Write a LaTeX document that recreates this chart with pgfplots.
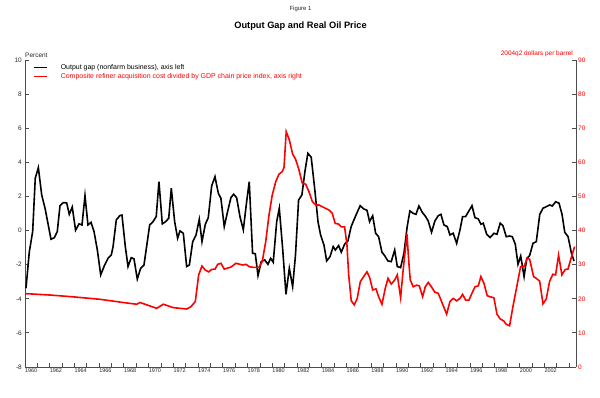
\documentclass[border=0pt]{standalone}
\usepackage{pgfplots}
\pgfplotsset{compat=1.18}
\usepackage{fontspec}
\setmainfont{Liberation Sans}
\begin{document}
\begin{tikzpicture}
\useasboundingbox (-25bp,-31bp) rectangle (575bp,367bp);
\pgfplotsset{
  common/.style={scale only axis, width=551bp, height=307bp, at={(0,0)}, anchor=south west,
    xmin=1960, xmax=2004.55, tick align=inside, major tick length=4bp,
    axis line style={black!70, line width=0.9bp},
    every tick/.style={black!70, line width=0.9bp},
    /pgf/number format/assume math mode=true},
}
\begin{axis}[common, ymin=-8, ymax=10,
  axis x line*=bottom, axis y line*=left,
  ytick={-8,-6,...,10},
  xtick={1960,...,2004}, xticklabels={},
  extra x ticks={1960.5,1962.5,1964.5,1966.5,1968.5,1970.5,1972.5,1974.5,1976.5,1978.5,1980.5,1982.5,1984.5,1986.5,1988.5,1990.5,1992.5,1994.5,1996.5,1998.5,2000.5,2002.5},
  extra x tick labels={1960,1962,1964,1966,1968,1970,1972,1974,1976,1978,1980,1982,1984,1986,1988,1990,1992,1994,1996,1998,2000,2002},
  extra x tick style={major tick length=0pt, xticklabel style={font=\fontsize{5.5}{6}\selectfont, text=black!85, inner sep=1bp}},
  yticklabel style={font=\fontsize{6.5}{7}\selectfont, text=black!85, inner sep=1bp, xshift=-2bp},
  legend style={draw=none, fill=none, at={(rel axis cs:0,1)}, anchor=north west,
    xshift=8bp, yshift=-2bp, inner sep=0pt, row sep=-1.5bp,
    font=\fontsize{7}{8}\selectfont, cells={anchor=west},
    /tikz/every even column/.append style={column sep=0bp},
    /tikz/every odd column/.append style={column sep=11bp}},
  legend image code/.code={\draw[#1, line width=1.6bp] (0bp,0bp) -- (13bp,0bp);},
  legend cell align=left,
  clip=false]
\addplot[black, line width=1.6bp] table {
1960.08 -3.38
1960.35 -1.24
1960.62 -0.06
1960.83 3.07
1961.08 3.69
1961.35 2.09
1961.62 1.31
1961.88 0.33
1962.10 -0.51
1962.37 -0.42
1962.61 -0.06
1962.83 1.46
1963.10 1.64
1963.37 1.62
1963.58 0.95
1963.82 1.38
1964.09 0.02
1964.37 0.39
1964.61 0.33
1964.85 2.05
1965.09 0.33
1965.34 0.48
1965.58 -0.06
1965.85 -1.14
1966.12 -2.60
1966.44 -2.02
1966.71 -1.63
1966.98 -1.43
1967.12 -0.94
1967.38 0.62
1967.66 0.87
1967.84 0.91
1968.11 -0.94
1968.33 -2.11
1968.59 -1.59
1968.81 -1.66
1969.08 -2.84
1969.35 -2.21
1969.62 -2.02
1969.89 -0.65
1970.08 0.33
1970.35 0.52
1970.61 0.82
1970.83 2.87
1971.10 0.39
1971.37 0.52
1971.62 0.72
1971.83 2.48
1972.10 0.52
1972.34 -0.45
1972.53 -0.02
1972.80 -0.16
1973.07 -2.11
1973.29 -2.02
1973.56 -0.65
1973.83 -0.26
1974.09 0.66
1974.31 -0.65
1974.58 0.37
1974.82 0.76
1975.09 2.61
1975.36 3.16
1975.63 2.19
1975.84 1.89
1976.11 0.23
1976.38 1.11
1976.65 1.93
1976.87 2.13
1977.11 1.93
1977.38 0.82
1977.65 0.04
1977.92 1.69
1978.13 2.87
1978.40 -1.33
1978.62 -1.36
1978.84 -2.64
1979.10 -1.82
1979.38 -1.72
1979.64 -1.98
1979.86 -1.63
1980.07 -1.86
1980.35 0.52
1980.56 1.31
1980.83 -1.04
1981.10 -3.74
1981.37 -2.21
1981.64 -3.29
1981.87 -1.43
1982.12 1.79
1982.39 2.09
1982.63 3.45
1982.87 4.53
1983.14 4.30
1983.42 2.48
1983.69 0.52
1983.90 -0.26
1984.17 -0.84
1984.39 -1.78
1984.66 -1.53
1984.92 -0.94
1985.09 -1.14
1985.36 -0.88
1985.57 -1.27
1985.84 -0.80
1986.11 -0.61
1986.37 0.23
1986.65 0.72
1986.86 1.07
1987.10 1.46
1987.38 1.27
1987.65 1.19
1987.86 0.52
1988.11 0.87
1988.35 -0.16
1988.59 -0.36
1988.86 -1.27
1989.08 -1.47
1989.34 -1.78
1989.61 -1.82
1989.89 -1.14
1990.10 -2.11
1990.37 -2.17
1990.64 -1.33
1990.90 0.23
1991.12 1.15
1991.39 1.01
1991.61 0.95
1991.85 1.44
1992.12 1.07
1992.39 0.82
1992.60 0.56
1992.87 -0.10
1993.14 0.56
1993.41 0.87
1993.63 0.95
1993.87 0.33
1994.14 0.23
1994.36 -0.26
1994.62 -0.16
1994.90 -0.75
1995.17 0.04
1995.38 0.82
1995.62 0.82
1995.89 1.15
1996.14 1.46
1996.38 0.76
1996.65 0.68
1996.86 0.37
1997.05 0.43
1997.33 -0.22
1997.60 -0.41
1997.92 -0.16
1998.16 -0.22
1998.42 0.43
1998.64 0.29
1998.91 -0.36
1999.18 -0.32
1999.40 -0.36
1999.64 -0.80
1999.86 -1.98
2000.08 -1.49
2000.35 -2.70
2000.57 -1.63
2000.80 -1.47
2001.07 -0.75
2001.34 -0.65
2001.62 0.95
2001.88 1.31
2002.15 1.40
2002.42 1.50
2002.63 1.44
2002.91 1.69
2003.18 1.60
2003.42 0.95
2003.64 -0.10
2003.91 -0.36
2004.18 -1.33
2004.39 -1.78
};
\addlegendentry{Output gap (nonfarm business), axis left}
\addlegendimage{red, line width=1.6bp}
\addlegendentry{\textcolor{red}{Composite refiner acquisition cost divided by GDP chain price index, axis right}}
\node[anchor=south west, inner sep=0pt, font=\fontsize{6.5}{7}\selectfont, text=black!85] at ([yshift=2bp]rel axis cs:0,1) {Percent};
\node[anchor=south east, inner sep=0pt, font=\fontsize{6.5}{7}\selectfont, text=red] at ([xshift=-3bp,yshift=3bp]rel axis cs:1,1) {2004q2 dollars per barrel};
\node[font=\fontsize{6}{7}\selectfont, text=black!85] at ([yshift=51bp]rel axis cs:0.5,1) {Figure 1};
\node[font=\bfseries\fontsize{9.3}{10}\selectfont] at ([yshift=34bp]rel axis cs:0.5,1) {Output Gap and Real Oil Price};
\end{axis}
\begin{axis}[common, ymin=0, ymax=90,
  axis y line*=right, axis x line=none,
  ytick={0,10,...,90},
  yticklabel style={font=\fontsize{6.5}{7}\selectfont, text=red, inner sep=1bp, xshift=1bp}]
\addplot[red, line width=1.6bp] table {
1960.08 21.5
1962.02 21.1
1963.78 20.6
1966.06 19.85
1967.95 18.9
1969.03 18.4
1969.30 18.9
1970.65 17.2
1971.18 18.4
1971.99 17.4
1973.07 17.0
1973.42 17.7
1973.77 19.2
1974.04 27.0
1974.31 29.6
1974.58 28.4
1974.85 27.9
1975.09 28.6
1975.36 28.7
1975.58 30.1
1975.84 30.4
1976.11 28.7
1976.65 29.3
1977.06 30.4
1977.60 29.9
1977.87 30.1
1978.13 29.4
1978.51 29.2
1978.92 29.2
1979.18 30.9
1979.46 36.7
1979.73 44.6
1979.99 50.4
1980.27 54.3
1980.53 56.5
1980.80 57.3
1980.94 58.5
1981.12 69.0
1981.37 66.6
1981.64 62.4
1981.88 60.9
1982.15 57.8
1982.42 53.9
1982.69 53.6
1982.96 51.4
1983.23 48.5
1983.50 47.5
1983.77 47.5
1984.03 47.0
1984.31 46.5
1984.58 46.0
1984.84 45.1
1985.08 42.1
1985.36 41.9
1985.57 41.1
1985.84 41.1
1986.03 35.8
1986.17 27.0
1986.38 19.4
1986.62 18.2
1986.86 20.1
1987.11 25.0
1987.38 26.5
1987.65 27.9
1987.87 26.2
1988.11 22.6
1988.38 22.9
1988.59 20.6
1988.86 18.4
1989.13 23.1
1989.35 26.0
1989.61 24.3
1989.89 25.5
1990.10 27.0
1990.37 20.3
1990.56 27.9
1990.88 38.9
1991.05 29.9
1991.15 25.5
1991.39 23.5
1991.66 24.0
1991.88 23.8
1992.15 20.6
1992.36 23.5
1992.60 24.8
1992.88 23.4
1993.14 21.9
1993.41 21.6
1993.68 19.2
1993.90 17.2
1994.09 15.5
1994.36 19.2
1994.62 20.1
1994.90 19.4
1995.17 20.1
1995.38 21.3
1995.63 19.6
1995.89 19.6
1996.16 21.8
1996.38 23.5
1996.65 23.8
1996.86 26.5
1997.11 24.5
1997.37 20.9
1997.59 20.6
1997.91 20.3
1998.16 15.5
1998.42 14.1
1998.70 13.5
1998.91 12.5
1999.18 12.1
1999.45 17.7
1999.72 22.8
2000.07 29.4
2000.34 29.4
2000.61 31.9
2000.80 31.6
2001.12 26.5
2001.33 26.0
2001.61 25.2
2001.88 18.5
2002.14 19.9
2002.42 25.2
2002.68 27.2
2002.90 27.0
2003.14 32.8
2003.41 27.0
2003.68 28.6
2003.90 28.7
2004.16 32.0
2004.44 35.3
};
\end{axis}
\end{tikzpicture}
\end{document}
